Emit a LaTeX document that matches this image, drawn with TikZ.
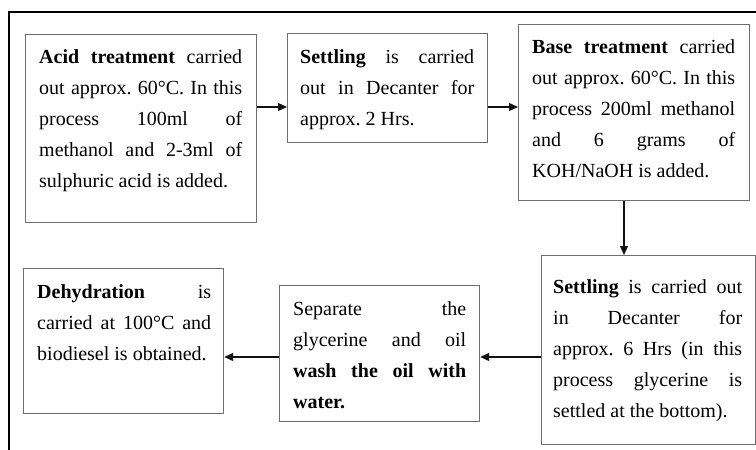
\documentclass[tikz,border=0pt]{standalone}
\usepackage{fontspec}
\setmainfont{Liberation Serif}
\usetikzlibrary{arrows.meta,calc}
\definecolor{BoxGray}{HTML}{6E6E6E}
\definecolor{FlowBlack}{HTML}{111111}

\tikzset{
  stage/.style={draw=BoxGray, line width=1.2pt, inner sep=0pt, anchor=north west},
  stagetext/.style={anchor=base west, inner sep=0pt, align=justify,
    font=\fontsize{20}{31}\selectfont},
  flow/.style={-{Triangle[length=9pt,width=8pt]}, FlowBlack, line width=1.2pt},
}

\begin{document}
% no hyphenation, no wide space after periods
\hyphenpenalty=10000
\exhyphenpenalty=10000
\frenchspacing
\begin{tikzpicture}[x=1pt, y=-1pt]
  \useasboundingbox (0,0) rectangle (756,450);
  % outer frame, only top and left edges show
  \draw[black, line width=2pt] (9,450) -- (9,12) -- (756,12);

  % top row
  \node[stage, minimum width=231pt, minimum height=188pt] (acid) at (25,34) {};
  \node[stagetext, text width=203pt] (acidtxt) at ($(acid.north west)+(14,29)$)
    {\textbf{Acid treatment} carried\linebreak out approx. 60°C. In this\linebreak
     process 100ml of\linebreak methanol and 2-3ml of\linebreak sulphuric acid is added.};

  \node[stage, minimum width=200pt, minimum height=109pt] (settleA) at (287,33) {};
  \node[stagetext, text width=174pt] (settleAtxt) at ($(settleA.north west)+(13,30)$)
    {\textbf{Settling} is carried\linebreak out in Decanter for\linebreak approx. 2 Hrs.};

  \node[stage, minimum width=231pt, minimum height=176pt] (base) at (518,24) {};
  \node[stagetext, text width=203pt] (basetxt) at ($(base.north west)+(14,29)$)
    {\textbf{Base treatment} carried\linebreak out approx. 60°C. In this\linebreak
     process 200ml methanol\linebreak and 6 grams of\linebreak KOH/NaOH is added.};

  % bottom row
  \node[stage, minimum width=214pt, minimum height=189pt] (settleB) at (541,255) {};
  \node[stagetext, text width=189pt] (settleBtxt) at ($(settleB.north west)+(12,38)$)
    {\textbf{Settling} is carried out\linebreak in Decanter for\linebreak
     approx. 6 Hrs (in this\linebreak process glycerine is\linebreak settled at the bottom).};

  \node[stage, minimum width=200pt, minimum height=136pt] (wash) at (279,285) {};
  \node[stagetext, text width=173pt] (washtxt) at ($(wash.north west)+(14,30)$)
    {Separate the\linebreak glycerine and oil\linebreak \textbf{wash the oil with\linebreak water.}};

  \node[stage, minimum width=200pt, minimum height=145pt] (dehyd) at (23,268) {};
  \node[stagetext, text width=174pt] (dehydtxt) at ($(dehyd.north west)+(14,30)$)
    {\textbf{Dehydration} is\linebreak carried at 100°C and\linebreak biodiesel is obtained.};

  % connectors
  \draw[flow] ([yshift=-73pt]acid.north east) -- ([yshift=-74pt]settleA.north west);
  \draw[flow] ([yshift=-74pt]settleA.north east) -- ([yshift=-83pt]base.north west);
  \draw[flow] ([xshift=106pt]base.south west) -- ([xshift=83pt]settleB.north west);
  \draw[flow] ([yshift=-102pt]settleB.north west) -- ([yshift=-72pt]wash.north east);
  \draw[flow] ([yshift=-72pt]wash.north west) -- ([yshift=-89pt]dehyd.north east);
\end{tikzpicture}
\end{document}
